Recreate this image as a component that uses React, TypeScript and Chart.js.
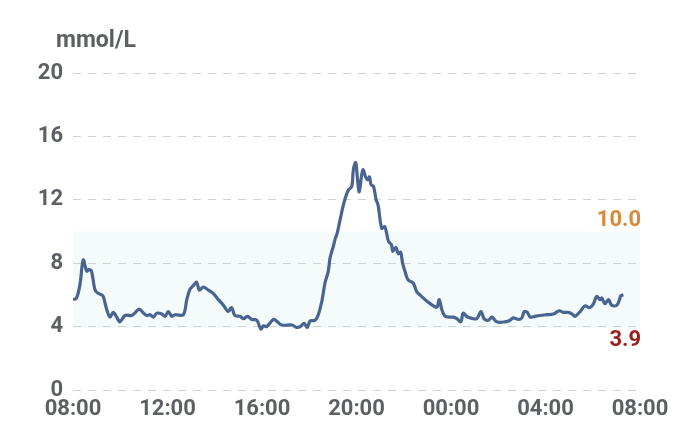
import React, { useEffect, useRef } from "react";
import { Chart, registerables } from "chart.js";

Chart.register(...registerables);

// minutes after 08:00 (start of the 24 h window)
const minutesSince0800 = [
  0, 9, 18, 26, 35, 41, 47, 56, 64, 73, 77, 86, 94, 102, 111, 119, 132, 149, 157, 168,
  179, 187, 196, 204, 213, 225, 234, 242, 251, 259, 280, 289, 297, 306, 314, 321, 331, 344, 356, 369,
  382, 394, 403, 411, 424, 433, 443, 454, 467, 477, 484, 492, 509, 517, 530, 556, 568, 577, 587, 595,
  602, 615, 623, 632, 640, 648, 653, 661, 666, 671, 678, 688, 699, 708, 712, 718, 722, 727, 733, 737,
  743, 749, 753, 757, 763, 770, 775, 784, 792, 801, 809, 812, 820, 826, 832, 837, 843, 851, 864, 873,
  881, 894, 907, 919, 925, 930, 937, 945, 958, 966, 975, 985, 991, 1002, 1025, 1036, 1044, 1055, 1064, 1076,
  1097, 1110, 1118, 1131, 1140, 1146, 1154, 1161, 1173, 1186, 1203, 1220, 1235, 1245, 1258, 1267, 1275, 1288, 1300, 1313,
  1322, 1330, 1339, 1343, 1351, 1360, 1368, 1381, 1388, 1391, 1398,
];

// glucose, mmol/L
const glucose = [
  5.7, 5.8, 6.7, 8.2, 7.5, 7.6, 7.5, 6.3, 6.1, 6.0, 5.9, 5.05, 4.6, 4.9, 4.6, 4.3, 4.7, 4.7, 4.85, 5.1,
  4.85, 4.7, 4.75, 4.6, 4.85, 4.8, 4.65, 4.95, 4.65, 4.75, 4.75, 5.7, 6.35, 6.6, 6.8, 6.3, 6.5, 6.3, 6.1, 5.7,
  5.35, 4.95, 5.2, 4.7, 4.65, 4.5, 4.65, 4.45, 4.4, 3.85, 4.05, 4.0, 4.45, 4.35, 4.1, 4.1, 3.95, 4.0, 4.2, 3.95,
  4.35, 4.4, 4.75, 5.6, 6.75, 7.45, 8.35, 9.05, 9.55, 9.9, 10.7, 11.8, 12.6, 12.85, 13.9, 14.35, 13.45, 12.5, 13.55, 13.9,
  13.45, 13.25, 13.45, 12.95, 12.85, 12.0, 11.65, 10.2, 10.3, 9.4, 9.15, 8.75, 9.0, 8.6, 8.7, 8.0, 7.5, 6.95, 6.75, 6.2,
  6.0, 5.7, 5.45, 5.25, 5.25, 5.7, 5.05, 4.65, 4.6, 4.6, 4.5, 4.3, 4.85, 4.6, 4.5, 4.95, 4.5, 4.4, 4.6, 4.3,
  4.3, 4.4, 4.55, 4.45, 4.55, 4.95, 4.9, 4.6, 4.65, 4.7, 4.75, 4.8, 5.0, 4.9, 4.9, 4.8, 4.65, 4.95, 5.3, 5.2,
  5.45, 5.9, 5.7, 5.8, 5.45, 5.7, 5.35, 5.35, 5.7, 5.95, 6.0,
];

const yTicks = [0, 4, 8, 12, 16, 20];
const xTickHours = ["08:00", "12:00", "16:00", "20:00", "00:00", "04:00", "08:00"];
const targetLow = 3.9;
const targetHigh = 10.0;
const unitLabel = "mmol/L";

const FONT = "Roboto, 'Noto Sans', sans-serif";
const TICK_COLOR = "#5c5f64";

const rangePlugin = {
  id: "targetRange",
  beforeDraw(chart: any) {
    const { ctx, chartArea, scales } = chart;
    const y = scales.y;
    const top = y.getPixelForValue(targetHigh);
    const bottom = y.getPixelForValue(targetLow);
    ctx.save();
    ctx.fillStyle = "#f3fbfb";
    ctx.fillRect(chartArea.left, top, chartArea.right - chartArea.left, bottom - top);
    ctx.restore();
  },
  afterDraw(chart: any) {
    const { ctx, chartArea, scales } = chart;
    const y = scales.y;
    const top = y.getPixelForValue(targetHigh);
    const bottom = y.getPixelForValue(targetLow);
    ctx.save();
    ctx.font = `bold 22px ${FONT}`;
    ctx.textAlign = "right";
    ctx.textBaseline = "alphabetic";
    ctx.fillStyle = "#d68b3c";
    ctx.fillText(targetHigh.toFixed(1), chartArea.right + 1, top - 6);
    ctx.textBaseline = "top";
    ctx.fillStyle = "#9c1f1f";
    ctx.fillText(targetLow.toFixed(1), chartArea.right + 1, bottom + 1);
    ctx.font = `bold 23px ${FONT}`;
    ctx.textAlign = "left";
    ctx.textBaseline = "alphabetic";
    ctx.fillStyle = TICK_COLOR;
    ctx.fillText(unitLabel, 56, 47);
    ctx.restore();
  },
};

export default function App() {
  const ref = useRef<HTMLCanvasElement | null>(null);

  useEffect(() => {
    if (!ref.current) return;
    const points = minutesSince0800.map((m, i) => ({ x: m, y: glucose[i] }));
    const chart = new Chart(ref.current, {
      type: "line",
      data: {
        datasets: [
          {
            data: points,
            borderColor: "#4a6491",
            borderWidth: 3.2,
            pointRadius: 0,
            tension: 0.35,
            fill: false,
          },
        ],
      },
      options: {
        animation: false,
        responsive: false,
        maintainAspectRatio: false,
        layout: { padding: { top: 73, right: 50, bottom: 0, left: 0 } },
        plugins: { legend: { display: false }, tooltip: { enabled: false } },
        scales: {
          x: {
            type: "linear",
            min: 0,
            max: 1440,
            afterFit: (s: any) => {
              s.height = 38;
            },
            afterBuildTicks: (s: any) => {
              s.ticks = xTickHours.map((_, i) => ({ value: i * 240 }));
            },
            ticks: {
              padding: 6,
              color: TICK_COLOR,
              font: { family: FONT, size: 22, weight: "bold" },
              maxRotation: 0,
              autoSkip: false,
              callback: (v: any) => xTickHours[Math.round(Number(v) / 240)],
            },
            grid: { display: false, drawTicks: false },
            border: { display: false },
          },
          y: {
            min: 0,
            max: 20,
            afterFit: (s: any) => {
              s.width = 73;
            },
            afterBuildTicks: (s: any) => {
              s.ticks = yTicks.map((v) => ({ value: v }));
            },
            ticks: {
              padding: 10,
              color: TICK_COLOR,
              font: { family: FONT, size: 22, weight: "bold" },
            },
            grid: { color: "#d2d2d2", lineWidth: 1, drawTicks: false },
            border: { display: false, dash: [8, 7] },
          },
        },
      },
      plugins: [rangePlugin],
    });
    return () => chart.destroy();
  }, []);

  return (
    <div style={{ position: "fixed", left: 0, top: 0, width: 690, height: 428, background: "#fff" }}>
      <canvas ref={ref} width={690} height={428} style={{ width: 690, height: 428 }} />
    </div>
  );
}
